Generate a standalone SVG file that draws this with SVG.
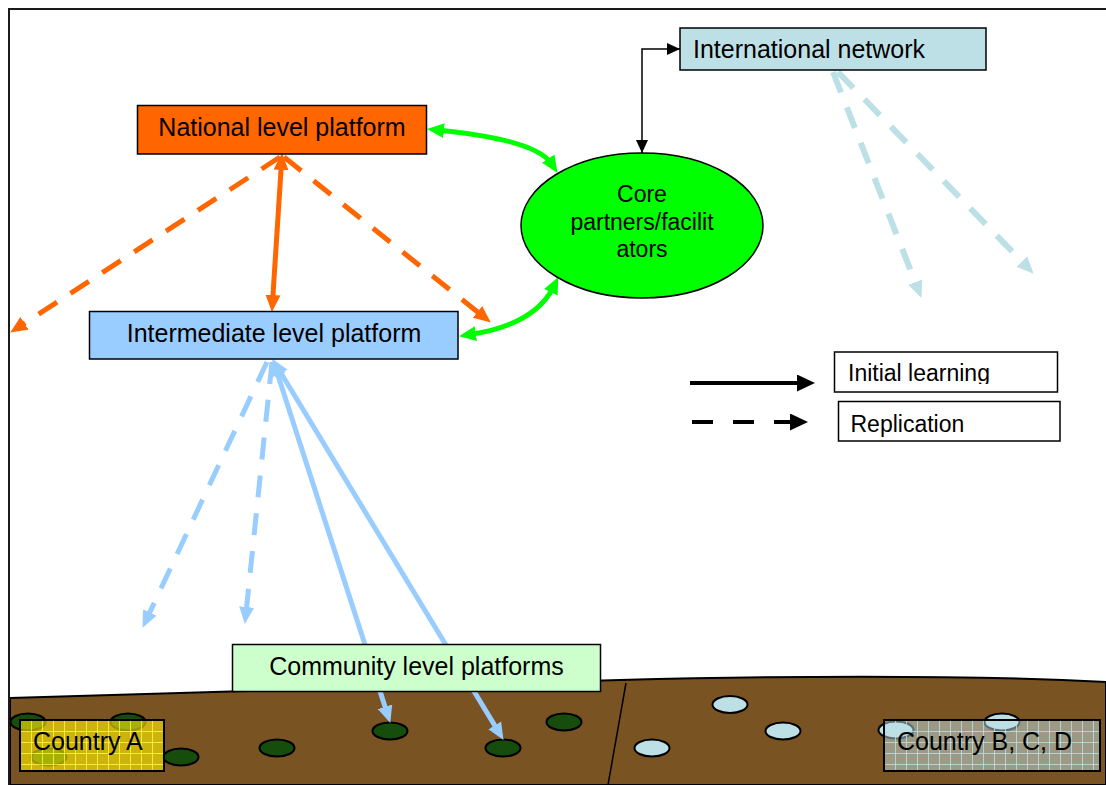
<svg xmlns="http://www.w3.org/2000/svg" width="1106" height="785" viewBox="0 0 1106 785">
<style>
text{font-family:"Liberation Sans",Arial,sans-serif;fill:#000}
.box{stroke:#000;stroke-width:1.5}
.dg{fill:#174d0c;stroke:#000;stroke-width:2}
.lb{fill:#bde0e6;stroke:#000;stroke-width:2}
.c{fill:none}
.or{stroke:#ff6600;stroke-width:5}
.bl{stroke:#99ccff;stroke-width:5}
.cy{stroke:#bde0e6;stroke-width:6}
.gr{stroke:#00ff00;stroke-width:5}
.dash{stroke-dasharray:22 16}
</style>
<defs>
<marker id="mOr" markerUnits="userSpaceOnUse" markerWidth="17" markerHeight="16" refX="6" refY="8" orient="auto-start-reverse"><path d="M0,0.5 L17,8 L0,15.5 Z" fill="#ff6600"/></marker>
<marker id="mBl" markerUnits="userSpaceOnUse" markerWidth="17" markerHeight="16" refX="6" refY="8" orient="auto-start-reverse"><path d="M0,0.5 L17,8 L0,15.5 Z" fill="#99ccff"/></marker>
<marker id="mCy" markerUnits="userSpaceOnUse" markerWidth="17" markerHeight="16" refX="6" refY="8" orient="auto-start-reverse"><path d="M0,0.5 L17,8 L0,15.5 Z" fill="#bde0e6"/></marker>
<marker id="mGr" markerUnits="userSpaceOnUse" markerWidth="17" markerHeight="16" refX="6" refY="8" orient="auto-start-reverse"><path d="M0,0.5 L17,8 L0,15.5 Z" fill="#00ff00"/></marker>
<marker id="mBk" markerUnits="userSpaceOnUse" markerWidth="13" markerHeight="12" refX="13" refY="6" orient="auto-start-reverse"><path d="M0,0 L13,6 L0,12 Z" fill="#000"/></marker>
<marker id="mLg" markerUnits="userSpaceOnUse" markerWidth="18" markerHeight="17" refX="8" refY="8.5" orient="auto"><path d="M0,0 L18,8.5 L0,17 Z" fill="#000"/></marker>
<pattern id="patA" patternUnits="userSpaceOnUse" x="20" y="720" width="11" height="11"><rect width="11" height="11" fill="#ffee00" fill-opacity="0.62"/><path d="M0,0.5 H11 M0.5,0 V11" stroke="#ffff40" stroke-opacity="0.75" stroke-width="1"/></pattern>
<pattern id="patB" patternUnits="userSpaceOnUse" x="884" y="720" width="11" height="11"><rect width="11" height="11" fill="#bde0e6" fill-opacity="0.5"/><path d="M0,0.5 H11 M0.5,0 V11" stroke="#bde0e6" stroke-opacity="0.8" stroke-width="1"/></pattern>
<clipPath id="clipIL"><rect x="834" y="352" width="224" height="32"/></clipPath>
</defs>

<g id="background">
<rect width="1106" height="785" fill="#fff"/>
<path d="M10,698 C200,693 450,684 620,680 C780,676 950,674 1106,682 L1106,785 L10,785 Z" fill="#7a5322" stroke="#000" stroke-width="2"/>
<line x1="626" y1="683" x2="608" y2="785" stroke="#000" stroke-width="1.5"/>
<g id="fields-a">
<ellipse class="dg" cx="28" cy="722" rx="17.5" ry="8.5"/>
<ellipse class="dg" cx="128" cy="722" rx="17.5" ry="8.5"/>
<ellipse class="dg" cx="49" cy="757" rx="17.5" ry="8.5"/>
<ellipse class="dg" cx="181" cy="757" rx="17.5" ry="8.5"/>
<ellipse class="dg" cx="277" cy="748" rx="17.5" ry="8.5"/>
<ellipse class="dg" cx="390" cy="731" rx="17.5" ry="8.5"/>
<ellipse class="dg" cx="503" cy="748" rx="17.5" ry="8.5"/>
<ellipse class="dg" cx="564" cy="722" rx="17.5" ry="8.5"/>
</g>
<g id="fields-b">
<ellipse class="lb" cx="730" cy="704.5" rx="17.5" ry="8.5"/>
<ellipse class="lb" cx="783" cy="731" rx="17.5" ry="8.5"/>
<ellipse class="lb" cx="652" cy="748" rx="17.5" ry="8.5"/>
<ellipse class="lb" cx="896" cy="730" rx="17.5" ry="8.5"/>
<ellipse class="lb" cx="1002" cy="722" rx="17.5" ry="8.5"/>
</g>
<line x1="8" y1="9" x2="1106" y2="9" stroke="#1a1a1a" stroke-width="2"/>
<line x1="9" y1="8" x2="9" y2="785" stroke="#1a1a1a" stroke-width="2"/>
</g>

<g id="country-a">
<rect x="20" y="720" width="144" height="51" fill="url(#patA)"/>
<rect x="20" y="720" width="144" height="51" fill="none" stroke="#000" stroke-width="2"/>
<text x="33" y="750" font-size="25">Country A</text>
</g>
<g id="country-bcd">
<rect x="884" y="720" width="216" height="51" fill="url(#patB)"/>
<rect x="884" y="720" width="216" height="51" fill="none" stroke="#000" stroke-width="2"/>
<text x="897" y="750" font-size="25">Country B, C, D</text>
</g>

<g id="connectors">
<polyline class="c" points="642,153 642,49 680,49" stroke="#000" stroke-width="1.5" marker-start="url(#mBk)" marker-end="url(#mBk)"/>
<path class="c gr" d="M438,130 Q535.7,139.8 551.5,163.7" marker-start="url(#mGr)" marker-end="url(#mGr)"/>
<path class="c gr" d="M469.9,334.5 Q534.7,324.8 553.5,286.9" marker-start="url(#mGr)" marker-end="url(#mGr)"/>
<line class="or" x1="281.4" y1="164" x2="272.6" y2="301" marker-start="url(#mOr)" marker-end="url(#mOr)"/>
<line class="or dash" x1="280" y1="157" x2="19.4" y2="326.6" marker-end="url(#mOr)"/>
<line class="or dash" x1="284" y1="157" x2="482.2" y2="315.7" marker-end="url(#mOr)"/>
<line class="cy dash" x1="833" y1="72" x2="917.4" y2="287.7" marker-end="url(#mCy)"/>
<line class="cy dash" x1="838" y1="72" x2="1026" y2="265.8" marker-end="url(#mCy)"/>
<line class="bl dash" x1="267" y1="362" x2="147.2" y2="617.9" marker-end="url(#mBl)"/>
<line class="bl dash" x1="272" y1="362" x2="246" y2="613" marker-end="url(#mBl)"/>
<line class="bl" x1="276.1" y1="369.5" x2="386.9" y2="712.5" marker-start="url(#mBl)" marker-end="url(#mBl)"/>
<line class="bl" x1="278.2" y1="368.5" x2="497.8" y2="730.5" marker-start="url(#mBl)" marker-end="url(#mBl)"/>
</g>

<g id="international-network">
<rect class="box" x="680" y="28" width="306" height="42" fill="#bde0e6"/>
<text x="693" y="58" font-size="25">International network</text>
</g>
<g id="national-platform">
<rect class="box" x="137.5" y="105.5" width="289" height="48.5" fill="#ff6600"/>
<text x="282" y="136" font-size="25" text-anchor="middle">National level platform</text>
</g>
<g id="core-partners">
<ellipse cx="642" cy="225.5" rx="121" ry="72.5" fill="#00ff00" stroke="#000" stroke-width="1.5"/>
<text x="642" y="202" font-size="23" text-anchor="middle">Core</text>
<text x="642" y="230" font-size="23" text-anchor="middle">partners/facilit</text>
<text x="642" y="257" font-size="23" text-anchor="middle">ators</text>
</g>
<g id="intermediate-platform">
<rect class="box" x="89.5" y="311.5" width="368.5" height="47.5" fill="#99ccff"/>
<text x="274" y="342" font-size="25" text-anchor="middle">Intermediate level platform</text>
</g>
<g id="community-platforms">
<rect class="box" x="232.5" y="644.5" width="368" height="47" fill="#ccffcc"/>
<text x="416.5" y="675" font-size="25" text-anchor="middle">Community level platforms</text>
</g>

<g id="legend">
<line x1="690" y1="383" x2="805" y2="383" stroke="#000" stroke-width="4" marker-end="url(#mLg)"/>
<line x1="692" y1="422" x2="798" y2="422" stroke="#000" stroke-width="4" stroke-dasharray="21 20" marker-end="url(#mLg)"/>
<g id="legend-initial">
<rect x="834.5" y="352" width="223" height="40" fill="#fff" stroke="#000" stroke-width="1.5"/>
<text x="848" y="381" font-size="23" clip-path="url(#clipIL)">Initial learning</text>
</g>
<g id="legend-replication">
<rect x="838.5" y="401.5" width="221.5" height="39.5" fill="#fff" stroke="#000" stroke-width="1.5"/>
<text x="850.5" y="431.5" font-size="23">Replication</text>
</g>
</g>
</svg>
